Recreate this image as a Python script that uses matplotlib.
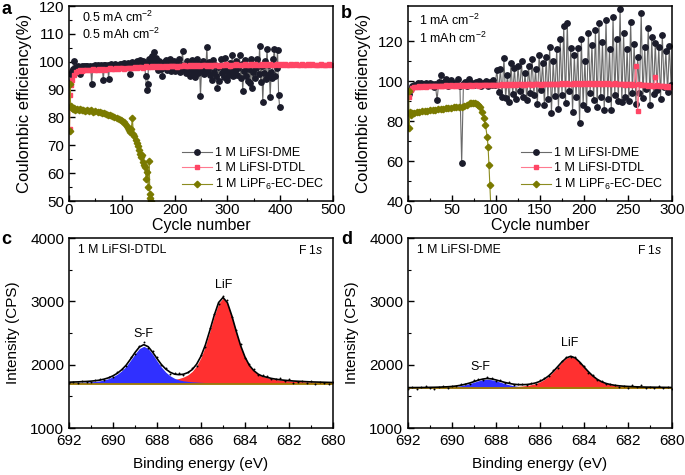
import matplotlib
matplotlib.use('Agg')
import matplotlib.pyplot as plt
import numpy as np
from matplotlib.ticker import MultipleLocator

plt.rcParams['font.family'] = 'Liberation Sans'
plt.rcParams['mathtext.fontset'] = 'custom'
plt.rcParams['mathtext.rm'] = 'Liberation Sans'
plt.rcParams['mathtext.it'] = 'Liberation Sans:italic'
plt.rcParams['axes.linewidth'] = 1.1

labels = ['1 M LiFSI-DME', '1 M LiFSI-DTDL', '1 M LiPF$_6$-EC-DEC']

# ---- panel a: 0.5 mA cm-2 ----
a_dme_cyc = np.arange(1, 401, 2)
a_dme = [92.5, 95.5, 96.8, 97.4, 100.1, 97.9, 98.2, 97.6, 98.3, 98.0,
         95.5, 98.2, 98.4, 97.9, 98.5, 98.1, 98.6, 98.3, 97.8, 98.4,
         98.2, 92.0, 98.6, 98.3, 98.7, 98.2, 98.5, 99.0, 98.4, 98.6,
         98.8, 98.3, 93.3, 98.7, 98.9, 98.4, 98.8, 93.9, 98.6, 99.1,
         98.7, 98.9, 98.5, 99.2, 98.8, 98.6, 99.0, 98.7, 99.3, 98.9,
         99.1, 98.6, 99.4, 99.0, 98.8, 99.6, 99.2, 95.5, 99.0, 99.8,
         99.3, 98.9, 99.7, 99.2, 100.1, 99.4, 98.8, 100.5, 99.6, 99.1,
         100.3, 99.5, 95.0, 90.0, 92.0, 100.8, 99.3, 101.5, 102.0, 100.2,
         103.6, 99.0, 101.2, 99.6, 97.0, 100.4, 99.2, 97.5, 94.7, 99.8,
         98.4, 100.6, 97.2, 99.5, 98.0, 101.0, 96.8, 99.2, 97.6, 100.3,
         96.5, 99.4, 98.2, 97.0, 100.8, 96.2, 99.0, 103.9, 97.4, 98.6,
         95.8, 100.2, 96.9, 98.9, 94.8, 97.5, 100.5, 96.3, 99.1, 94.4,
         97.8, 100.9, 96.0, 99.3, 87.6, 97.2, 100.4, 95.6, 98.5, 96.6,
         105.3, 97.0, 99.8, 95.2, 98.7, 93.4, 100.6, 96.4, 99.0, 95.0,
         90.7, 98.2, 93.0, 100.8, 96.0, 97.8, 94.6, 101.2, 96.8, 93.6,
         98.5, 95.4, 99.6, 96.2, 102.3, 94.8, 98.0, 96.6, 100.4, 95.2,
         97.8, 102.3, 94.0, 99.2, 89.4, 96.8, 100.6, 95.0, 98.4, 93.2,
         97.5, 92.5, 101.0, 90.7, 96.4, 99.0, 94.2, 97.8, 100.8, 95.6,
         105.7, 92.7, 98.6, 85.5, 96.0, 100.2, 93.8, 104.7, 95.4, 98.8,
         87.4, 96.2, 94.3, 101.0, 104.7, 95.0, 97.6, 104.2, 87.9, 83.7]

a_dtdl_cyc = np.r_[1, 2, 3, np.arange(5, 501, 4)]
a_dtdl = [76.0, 88.0, 91.5,
          93.5, 95.4, 96.2, 96.6, 96.9, 96.7, 97.1, 96.9, 97.2, 97.0,
          97.3, 96.9, 97.2, 97.4, 97.1, 97.5, 97.2, 97.4, 97.6, 97.3,
          97.5, 97.7, 97.4, 97.6, 97.8, 97.5, 97.7, 97.9, 97.6, 97.9,
          98.1, 97.8, 98.0, 98.2, 97.9, 98.3, 98.0, 98.2, 98.4, 98.1,
          98.3, 98.0, 98.4, 98.2, 98.5, 98.1, 98.4, 98.6, 98.3, 98.5,
          98.2, 98.6, 98.4, 98.7, 98.3, 98.6, 98.8, 98.4, 98.7, 98.5,
          98.8, 98.4, 98.7, 98.9, 98.5, 98.8, 98.6, 98.9, 98.7, 99.0,
          98.6, 98.9, 98.7, 99.1, 98.8, 98.6, 99.0, 98.8, 99.1, 98.7,
          99.0, 98.8, 99.2, 98.9, 98.7, 99.1, 98.9, 99.2, 98.8, 99.0,
          99.2, 98.9, 99.1, 98.8, 99.2, 99.0, 98.8, 99.2, 98.9, 99.1,
          98.8, 99.2, 99.0, 98.7, 99.1, 98.9, 99.2, 98.8, 99.0, 99.2,
          98.9, 98.7, 99.1, 98.9, 99.2, 98.8, 99.0, 98.7, 99.1, 98.9,
          99.0, 98.7, 99.1, 98.9]

a_lipf6_cyc = [1, 2, 3, 5, 7, 9, 12, 15, 18, 21, 24, 27, 30, 34, 38, 42, 46, 50,
               54, 58, 62, 66, 70, 74, 78, 82, 86, 90, 94, 98, 101, 104, 107, 110,
               112, 114, 116, 118, 120, 122, 124, 126, 128, 130, 132, 134, 136,
               138, 140, 142, 144, 146, 148, 150, 152, 153, 154, 155, 157, 160]
a_lipf6 = [75, 92, 84, 83.5, 83, 83.4, 82.8, 83.1, 82.6, 82.9, 82.5, 82.7, 82.3,
           82.6, 82.2, 82.5, 82.0, 82.2, 81.8, 81.9, 81.5, 81.7, 81.3, 81.0, 80.8,
           80.5, 80.2, 79.9, 79.5, 79.2, 78.8, 78.2, 77.6, 77.0, 76.2, 75.6, 74.8,
           76.0, 79.8, 74.0, 73.2, 72.0, 70.8, 69.6, 68.2, 67.0, 65.8, 66.4, 64.0,
           63.0, 62.2, 58.0, 60.5, 55.0, 64.5, 52.5, 51.0, 50.0, 47.0, 44.0]

# ---- panel b: 1 mA cm-2 ----
b_dme_cyc = np.arange(1, 301, 2)
b_dme = [93.5, 96.0, 97.5, 98.2, 97.6, 98.8, 97.9, 99.0, 98.3, 97.5,
         98.9, 97.8, 99.1, 98.4, 97.2, 98.6, 90.5, 99.3, 102.8, 98.0,
         99.5, 101.0, 97.6, 98.8, 100.4, 97.9, 99.2, 98.4, 100.8, 97.7,
         58.8, 98.6, 99.4, 97.4, 101.2, 98.5, 99.0, 97.8, 99.6, 98.2,
         99.8, 97.5, 99.1, 98.6, 100.2, 97.3, 99.5, 98.0, 100.6, 97.8,
         105.6, 94.5, 106.2, 92.0, 111.3, 91.3, 103.2, 89.7, 108.8, 93.5,
         106.5, 91.0, 107.5, 95.2, 109.8, 92.0, 104.0, 90.5, 107.5, 94.0,
         111.0, 93.0, 106.0, 88.5, 113.0, 95.5, 109.0, 88.0, 112.0, 91.0,
         117.0, 83.8, 110.0, 92.5, 116.0, 85.8, 121.0, 93.0, 127.5, 89.0,
         128.8, 95.0, 116.5, 84.7, 113.0, 92.0, 116.7, 78.8, 121.0, 88.0,
         110.0, 86.0, 124.0, 94.0, 118.0, 90.5, 125.5, 87.0, 128.8, 92.0,
         119.7, 85.5, 130.5, 91.0, 116.0, 85.5, 132.0, 93.0, 121.0, 90.0,
         136.0, 89.5, 123.8, 92.0, 116.0, 90.0, 129.7, 94.0, 118.5, 88.5,
         112.0, 94.0, 133.8, 91.5, 117.0, 96.0, 126.3, 88.0, 122.0, 93.5,
         119.0, 95.5, 117.0, 91.0, 123.0, 97.0, 115.0, 94.5, 117.5, 98.0]

b_dtdl_cyc = np.arange(1, 301, 2)
b_dtdl = [92.0, 95.5, 96.5, 97.0, 97.2, 97.0, 97.4, 97.1, 97.3, 97.5,
          97.2, 97.4, 97.6, 97.3, 97.5, 97.7, 97.4, 97.6, 97.3, 97.7,
          97.5, 97.8, 97.4, 97.6, 97.9, 97.5, 97.7, 97.9, 97.6, 97.8,
          98.0, 97.6, 97.9, 97.7, 98.0, 97.8, 97.6, 98.0, 97.8, 98.1,
          97.7, 97.9, 98.1, 97.8, 98.0, 98.2, 97.9, 98.1, 97.8, 98.2,
          98.0, 98.2, 97.9, 98.3, 98.0, 98.2, 98.4, 98.1, 98.3, 98.0,
          98.4, 98.1, 98.3, 98.5, 98.2, 98.4, 98.1, 98.5, 98.3, 98.6,
          98.2, 98.4, 98.6, 98.3, 98.5, 98.2, 98.6, 98.4, 98.7, 98.3,
          98.5, 98.7, 98.4, 98.6, 98.3, 98.7, 98.5, 98.8, 98.4, 98.6,
          98.8, 98.5, 98.7, 98.4, 98.8, 98.6, 98.9, 98.5, 98.7, 98.9,
          98.6, 98.8, 98.5, 98.9, 98.7, 98.5, 98.8, 98.6, 98.9, 98.7,
          98.5, 98.8, 98.6, 98.9, 98.5, 98.7, 98.4, 98.8, 98.6, 98.3,
          98.7, 98.4, 98.6, 98.2, 98.5, 98.3, 98.1, 98.4, 98.2, 107.5,
          85.2, 98.3, 97.9, 98.1, 97.8, 98.0, 97.6, 97.9, 97.7, 97.5,
          102.2, 97.8, 97.4, 97.6, 97.3, 97.5, 97.2, 97.4, 97.0, 97.2]

b_lipf6_cyc = [1, 1, 2, 3, 5, 7, 10, 13, 16, 19, 22, 25, 28, 31, 34, 37, 40, 43,
               46, 49, 52, 55, 58, 61, 64, 67, 70, 72, 74, 76, 78, 80, 82, 84, 86,
               88, 90, 91, 92, 93, 94, 96]
b_lipf6 = [95.0, 76.3, 84.7, 83.0, 83.8, 84.2, 84.5, 84.3, 84.8, 85.0, 84.9,
           85.3, 85.5, 85.4, 85.8, 86.0, 85.9, 86.3, 86.5, 86.4, 86.8, 87.0,
           87.2, 87.0, 87.6, 88.2, 88.8, 89.2, 89.0, 89.1, 88.7, 88.0, 87.0,
           84.7, 81.3, 78.0, 72.0, 67.0, 58.0, 48.0, 38.0, 30.0]

# ---- panels c, d: F 1s XPS (fitted components above baseline) ----
energy = np.linspace(692, 680, 61)
base_c = 1700
sf_c = [16, 18, 20, 23, 26, 30, 36, 45, 60, 80, 110, 150, 205, 275, 370, 470,
        555, 590, 554, 465, 359, 260, 181, 123, 84, 60, 45, 36, 29, 25, 21, 18,
        17, 14, 13, 11, 11, 9, 8, 8, 7, 6, 6, 5, 5, 5, 5, 5, 4, 4, 4, 4, 4, 4,
        3, 3, 3, 3, 3, 2, 2]
lif_c = [7, 8, 8, 9, 9, 10, 11, 11, 12, 13, 14, 15, 16, 18, 19, 22, 24, 26, 30,
         32, 38, 42, 49, 57, 66, 82, 104, 138, 193, 282, 413, 594, 821, 1064,
         1268, 1350, 1268, 1064, 821, 594, 413, 282, 200, 145, 112, 95, 78, 66,
         57, 50, 44, 38, 34, 31, 28, 25, 23, 21, 19, 18, 16]
resid_c = [-20, 8, -12, 15, -5, -18, 10, 22, -8, 14, -15, 25, 18, -10, 30, -22,
           12, 35, -25, 20, 28, -15, 10, -20, 15, 25, -18, 12, 30, -25, 20, -30,
           35, 15, -20, 25, 40, -28, 22, 30, -15, 25, 18, -20, 12, 28, -15, 10,
           22, -12, 18, -25, -8, 15, -20, 10, -30, 5, -18, -25, 12]

base_d = 1630
sf_d = [4, 4, 5, 5, 6, 7, 8, 10, 12, 15, 20, 27, 38, 53, 72, 93, 115, 132, 140,
        132, 115, 93, 72, 53, 38, 27, 20, 15, 12, 10, 8, 7, 6, 5, 5, 4, 4, 3, 3,
        3, 3, 3, 3, 2, 2, 2, 2, 2, 2, 2, 2, 2, 2, 2, 2, 2, 2, 2, 2, 2, 2]
lif_d = [4, 4, 4, 4, 4, 5, 5, 5, 6, 6, 6, 7, 7, 8, 8, 9, 10, 11, 12, 13, 14, 16,
         18, 21, 24, 28, 34, 42, 54, 72, 98, 137, 189, 256, 332, 410, 473, 500,
         473, 410, 332, 256, 189, 137, 98, 72, 54, 42, 34, 28, 24, 21, 18, 16,
         14, 13, 12, 11, 10, 9, 8]
resid_d = [-15, 10, -22, 5, 18, -10, -25, 8, 12, -18, 15, -8, 20, 10, -12, 25,
           18, -10, 22, 15, -18, 12, -8, 20, -15, 10, 5, -12, 18, -20, 15, 22,
           -10, 25, -18, 12, 20, -15, 8, -10, 15, -20, 10, -8, 12, -15, 5, 10,
           -12, 8, -18, 20, -10, 25, -15, 8, -20, 15, -12, 10, -25]

W, H = 685, 475
fig = plt.figure(figsize=(W / 100, H / 100), dpi=100)


def box(l, t, r, b):
    return [l / W, 1 - b / H, (r - l) / W, (b - t) / H]


def style(ax, xpad):
    ax.tick_params(which='both', direction='in', top=False, right=False,
                   labelsize=11)
    ax.tick_params(axis='y', pad=3.5)
    ax.tick_params(axis='x', pad=xpad)
    ax.tick_params(which='major', length=4, width=1)
    ax.tick_params(which='minor', length=2, width=0.8)


def cycling(ax, dme, dtdl, lipf6):
    ax.plot(*dme, '-o', color='#6a6a6a', lw=0.8, ms=3.9,
            mfc='#1b1c2b', mec='#1b1c2b', label=labels[0])
    ax.plot(*dtdl, '-s', color='#ff7a90', lw=0.8, ms=3.3,
            mfc='#ff4565', mec='#ff4565', label=labels[1])
    ax.plot(*lipf6, '-D', color='#8c8c20', lw=0.8, ms=3.3,
            mfc='#7a7a00', mec='#7a7a00', label=labels[2])
    ax.set_xlabel('Cycle number', fontsize=11.5, labelpad=0.5)
    ax.set_ylabel('Coulombic efficiency(%)', fontsize=12, labelpad=5)
    ax.legend(loc='lower right', frameon=False, fontsize=9, handlelength=2.4,
              labelspacing=0.25, handletextpad=0.3, borderaxespad=0.3)
    style(ax, 1.5)


ax = fig.add_axes(box(69, 6, 333, 201))
cycling(ax, (a_dme_cyc, a_dme), (a_dtdl_cyc, a_dtdl), (a_lipf6_cyc, a_lipf6))
ax.set_xlim(0, 500)
ax.set_ylim(50, 120)
ax.xaxis.set_major_locator(MultipleLocator(100))
ax.xaxis.set_minor_locator(MultipleLocator(50))
ax.yaxis.set_major_locator(MultipleLocator(10))
ax.yaxis.set_minor_locator(MultipleLocator(5))
ax.text(0.048, 0.94, '0.5 mA cm$^{-2}$', transform=ax.transAxes, fontsize=9, va='center')
ax.text(0.048, 0.855, '0.5 mAh cm$^{-2}$', transform=ax.transAxes, fontsize=9, va='center')

ax = fig.add_axes(box(408, 6, 672, 201))
cycling(ax, (b_dme_cyc, b_dme), (b_dtdl_cyc, b_dtdl), (b_lipf6_cyc, b_lipf6))
ax.set_xlim(0, 300)
ax.set_ylim(40, 137.5)
ax.xaxis.set_major_locator(MultipleLocator(50))
ax.xaxis.set_minor_locator(MultipleLocator(25))
ax.yaxis.set_major_locator(MultipleLocator(20))
ax.yaxis.set_minor_locator(MultipleLocator(10))
ax.text(0.04, 0.925, '1 mA cm$^{-2}$', transform=ax.transAxes, fontsize=9, va='center')
ax.text(0.04, 0.835, '1 mAh cm$^{-2}$', transform=ax.transAxes, fontsize=9, va='center')


def xps(ax, base, sf, lif, resid, name, sf_pos, lif_pos):
    sf = np.asarray(sf)
    lif = np.asarray(lif)
    fit = base + sf + lif
    ax.fill_between(energy, base, base + lif, color='#ff3030', lw=0)
    ax.fill_between(energy, base, base + sf, color='#3030ff', lw=0)
    ax.axhline(base, color='#a07c00', lw=1.3)
    ax.plot(energy, fit + np.asarray(resid), 'o', color='k', ms=1.4, mew=0)
    ax.plot(energy, fit, color='k', lw=1.2)
    ax.set_xlim(692, 680)
    ax.set_ylim(1000, 4000)
    ax.xaxis.set_major_locator(MultipleLocator(2))
    ax.xaxis.set_minor_locator(MultipleLocator(1))
    ax.yaxis.set_major_locator(MultipleLocator(1000))
    ax.yaxis.set_minor_locator(MultipleLocator(500))
    ax.set_xlabel('Binding energy (eV)', fontsize=11, labelpad=7)
    ax.set_ylabel('Intensity (CPS)', fontsize=11, labelpad=7)
    ax.text(0.035, 0.935, name, transform=ax.transAxes, fontsize=8.8, va='center')
    ax.text(0.965, 0.935, 'F 1$s$', transform=ax.transAxes, fontsize=8.8,
            va='center', ha='right')
    ax.text(*sf_pos, 'S-F', fontsize=9, ha='center', va='center')
    ax.text(*lif_pos, 'LiF', fontsize=9, ha='center', va='center')
    style(ax, 4)


ax = fig.add_axes(box(69, 238, 333, 428))
xps(ax, base_c, sf_c, lif_c, resid_c, '1 M LiFSI-DTDL', (688.6, 2480), (684.95, 3260))
ax = fig.add_axes(box(408, 238, 672, 428))
xps(ax, base_d, sf_d, lif_d, resid_d, '1 M LiFSI-DME', (688.7, 1965), (684.65, 2345))

for s, x, y in [('a', 7, 10), ('b', 346, 13), ('c', 6, 240), ('d', 347, 239)]:
    fig.text(x / W, 1 - y / H, s, fontsize=13, fontweight='bold', ha='center', va='center')

fig.savefig('out.png', dpi=100)
